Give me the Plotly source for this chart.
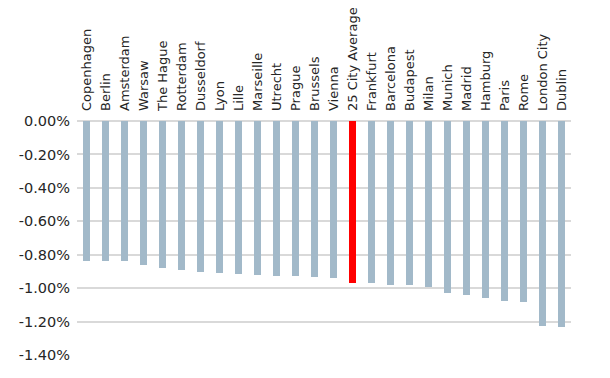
import plotly.graph_objects as go

cities = ["Copenhagen", "Berlin", "Amsterdam", "Warsaw", "The Hague", "Rotterdam",
          "Dusseldorf", "Lyon", "Lille", "Marseille", "Utrecht", "Prague", "Brussels",
          "Vienna", "25 City Average", "Frankfurt", "Barcelona", "Budapest", "Milan",
          "Munich", "Madrid", "Hamburg", "Paris", "Rome", "London City", "Dublin"]
values = [-0.838, -0.838, -0.840, -0.860, -0.882, -0.890, -0.904, -0.912, -0.914,
          -0.920, -0.926, -0.930, -0.932, -0.942, -0.968, -0.972, -0.980, -0.980,
          -0.994, -1.030, -1.042, -1.060, -1.074, -1.080, -1.229, -1.232]
tick_vals = [0, -0.2, -0.4, -0.6, -0.8, -1.0, -1.2, -1.4]
tick_text = ["0.00%", "-0.20%", "-0.40%", "-0.60%", "-0.80%", "-1.00%", "-1.20%", "-1.40%"]

colors = ["#ff0000" if c == "25 City Average" else "#a2b9c9" for c in cities]

fig = go.Figure(go.Bar(x=cities, y=values, marker=dict(color=colors, line=dict(width=0)),
                       width=0.32))
fig.update_layout(
    width=610, height=378,
    margin=dict(l=69, r=47, t=113, b=31),
    paper_bgcolor="white", plot_bgcolor="white",
    font=dict(family="DejaVu Sans, sans-serif", size=13, color="#262626"),
    showlegend=False,
    bargap=0,
)
fig.update_xaxes(side="top", tickangle=-90, showgrid=False, showline=False,
                 ticks="", tickfont=dict(size=13), ticklabelstandoff=9, automargin=False)
fig.update_yaxes(range=[-1.4, 0], tickvals=tick_vals, ticktext=tick_text,
                 showgrid=True, gridcolor="#d9d9d9", gridwidth=1.5,
                 zeroline=True, zerolinecolor="#d9d9d9", zerolinewidth=1.5,
                 ticks="", tickfont=dict(size=14.5), ticklabelstandoff=6, automargin=False)
fig.write_html("out.html")
